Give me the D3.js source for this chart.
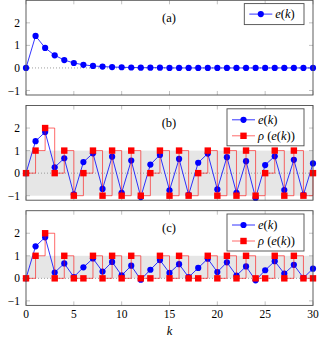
<!DOCTYPE html>
<html>
<head>
<meta charset="utf-8">
<script src="https://cdn.jsdelivr.net/npm/d3@7"></script>
<style>
  body { margin: 0; background: #fff; }
  svg { display: block; }
</style>
</head>
<body>
<script>
const W = 324, H = 342;

// sample index
const kSteps = d3.range(31);

// (a) error signal
const eA = [0, 1.42, 0.89, 0.56, 0.35, 0.22, 0.14, 0.09, 0.06, 0.04, 0.03, 0.02, 0.01, 0.01, 0.01,
  0, 0, 0, 0, 0, 0, 0, 0, 0, 0, 0, 0, 0, 0, 0, 0];

// (b) error and quantized error
const eB = [0, 1.42, 1.82, 0.26, 0.66, -0.94, 0.49, 0.88, -0.70, 0.73, -0.87, 0.56, -1.06, 0.38, 0.81,
  -0.76, 0.63, -0.96, 0.46, 0.87, -0.72, 0.71, -0.87, 0.53, -1.10, 0.36, 0.75, -0.75, 0.59, -0.96, 0.43];
const rhoB = [0, 1, 2, 0, 1, -1, 0, 1, -1, 1, -1, 1, -1, 0, 1,
  -1, 1, -1, 0, 1, -1, 1, -1, 1, -1, 0, 1, -1, 1, -1, 0];

// (c) error and quantized error
const eC = [0, 1.42, 1.82, 0.26, 0.66, 0.06, 0.49, 0.88, 0.30, 0.73, 0.13, 0.56, -0.06, 0.38, 0.81,
  0.24, 0.63, 0.05, 0.46, 0.87, 0.28, 0.71, 0.12, 0.53, -0.09, 0.36, 0.76, 0.21, 0.60, 0.02, 0.43];
const rhoC = [0, 1, 2, 0, 1, 0, 0, 1, 0, 1, 0, 1, 0, 0, 1,
  0, 1, 0, 0, 1, 0, 1, 0, 1, 0, 0, 1, 0, 1, 0, 0];

const panelTitles = ["(a)", "(b)", "(c)"];
const bands = [null, [-1, 1], [0, 1]];
const xTicks = [0, 5, 10, 15, 20, 25, 30];
const yTicks = [-1, 0, 1, 2];

const panels = [
  { title: panelTitles[0], e: eA, rho: null, band: bands[0] },
  { title: panelTitles[1], e: eB, rho: rhoB, band: bands[1] },
  { title: panelTitles[2], e: eC, rho: rhoC, band: bands[2] }
];

const left = 26, right = 313;
const panelH = 94.7, panelStep = 105.2, firstTop = 0.3;
const serif = "'Liberation Serif', 'DejaVu Serif', serif";
const blue = "#0000ff", red = "#ff0000", frame = "#4d4d4d";

const x = d3.scaleLinear().domain([0, 30]).range([left, right]);

const svg = d3.select("body").append("svg")
  .attr("width", W)
  .attr("height", H)
  .attr("font-family", serif)
  .attr("font-size", 11.5);

// legend label with italic symbols
function labelE(t) {
  t.append("tspan").attr("font-style", "italic").text("e");
  t.append("tspan").text("(");
  t.append("tspan").attr("font-style", "italic").text("k");
  t.append("tspan").text(")");
}
function labelRho(t) {
  t.append("tspan").attr("font-style", "italic").text("ρ");
  t.append("tspan").text(" (");
  t.append("tspan").attr("font-style", "italic").text("e");
  t.append("tspan").text("(");
  t.append("tspan").attr("font-style", "italic").text("k");
  t.append("tspan").text("))");
}

panels.forEach((p, i) => {
  const top = firstTop + i * panelStep;
  const bottom = top + panelH;
  const y = d3.scaleLinear().domain([-1.2, 3]).range([bottom, top]);
  const g = svg.append("g");

  // shaded quantizer range
  if (p.band) {
    g.append("rect")
      .attr("x", x(0)).attr("width", x(30) - x(0))
      .attr("y", y(p.band[1])).attr("height", y(p.band[0]) - y(p.band[1]))
      .attr("fill", "#e6e6e6");
  }

  // dotted zero line
  g.append("line")
    .attr("x1", x(0)).attr("x2", x(30))
    .attr("y1", y(0)).attr("y2", y(0))
    .attr("stroke", "#888").attr("stroke-width", 0.8)
    .attr("stroke-dasharray", "1,2");

  // inward ticks on all four sides
  const tl = 4;
  xTicks.forEach(t => {
    g.append("line").attr("x1", x(t)).attr("x2", x(t)).attr("y1", bottom).attr("y2", bottom - tl)
      .attr("stroke", "#999").attr("stroke-width", 0.6);
    g.append("line").attr("x1", x(t)).attr("x2", x(t)).attr("y1", top).attr("y2", top + tl)
      .attr("stroke", "#999").attr("stroke-width", 0.6);
  });
  yTicks.forEach(t => {
    g.append("line").attr("x1", left).attr("x2", left + tl).attr("y1", y(t)).attr("y2", y(t))
      .attr("stroke", "#999").attr("stroke-width", 0.6);
    g.append("line").attr("x1", right).attr("x2", right - tl).attr("y1", y(t)).attr("y2", y(t))
      .attr("stroke", "#999").attr("stroke-width", 0.6);
    g.append("text")
      .attr("x", left - 6).attr("y", y(t)).attr("dy", "0.35em")
      .attr("text-anchor", "end")
      .text(t < 0 ? "\u2212" + Math.abs(t) : t);
  });

  // e(k): blue line with dots
  const line = d3.line().x((d, j) => x(kSteps[j])).y(d => y(d));
  g.append("path")
    .attr("d", line(p.e))
    .attr("fill", "none").attr("stroke", blue).attr("stroke-width", 0.8);
  g.selectAll("circle.e")
    .data(p.e)
    .join("circle")
    .attr("class", "e")
    .attr("cx", (d, j) => x(kSteps[j]))
    .attr("cy", d => y(d))
    .attr("r", 3.1)
    .attr("fill", blue);

  // rho(e(k)): red staircase with squares
  if (p.rho) {
    const stair = d3.line().curve(d3.curveStepAfter).x((d, j) => x(kSteps[j])).y(d => y(d));
    g.append("path")
      .attr("d", stair(p.rho))
      .attr("fill", "none").attr("stroke", red).attr("stroke-opacity", 0.65).attr("stroke-width", 0.9);
    g.selectAll("rect.rho")
      .data(p.rho)
      .join("rect")
      .attr("class", "rho")
      .attr("x", (d, j) => x(kSteps[j]) - 3.2)
      .attr("y", d => y(d) - 3.2)
      .attr("width", 6.4).attr("height", 6.4)
      .attr("fill", red);
  }

  // frame
  g.append("rect")
    .attr("x", left).attr("y", top)
    .attr("width", right - left).attr("height", bottom - top)
    .attr("fill", "none").attr("stroke", frame).attr("stroke-width", 0.9);

  // panel title
  g.append("text")
    .attr("x", 169).attr("y", top + 21.5)
    .attr("text-anchor", "middle")
    .attr("font-size", 12.5)
    .text(p.title);

  // legend
  const two = !!p.rho;
  const lx = two ? 227 : 244.3, lw = 304 - lx;
  const ly = top + 3.3, lh = two ? 37 : 21;
  const lg = g.append("g").attr("font-size", 12.5);
  lg.append("rect")
    .attr("x", lx).attr("y", ly).attr("width", lw).attr("height", lh)
    .attr("fill", "#fff").attr("stroke", frame).attr("stroke-width", 0.9);
  const r1 = ly + (two ? 11 : 10.5);
  lg.append("line").attr("x1", lx + 5).attr("x2", lx + 28).attr("y1", r1).attr("y2", r1)
    .attr("stroke", blue).attr("stroke-width", 0.8);
  lg.append("circle").attr("cx", lx + 16.5).attr("cy", r1).attr("r", 3.1).attr("fill", blue);
  lg.append("text").attr("x", lx + 31).attr("y", r1).attr("dy", "0.32em").call(labelE);
  if (two) {
    const r2 = ly + 27;
    lg.append("line").attr("x1", lx + 5).attr("x2", lx + 28).attr("y1", r2).attr("y2", r2)
      .attr("stroke", red).attr("stroke-opacity", 0.65).attr("stroke-width", 0.9);
    lg.append("rect").attr("x", lx + 16.5 - 3.2).attr("y", r2 - 3.2).attr("width", 6.4).attr("height", 6.4)
      .attr("fill", red);
    lg.append("text").attr("x", lx + 31).attr("y", r2).attr("dy", "0.32em").call(labelRho);
  }

  // x tick labels on the bottom panel only
  if (i === panels.length - 1) {
    xTicks.forEach(t => {
      g.append("text")
        .attr("x", x(t)).attr("y", bottom + 4.5).attr("dy", "0.71em")
        .attr("text-anchor", "middle")
        .text(t);
    });
    g.append("text")
      .attr("x", (left + right) / 2).attr("y", bottom + 30)
      .attr("text-anchor", "middle")
      .attr("font-style", "italic")
      .attr("font-size", 12.5)
      .text("k");
  }
});
</script>
</body>
</html>
